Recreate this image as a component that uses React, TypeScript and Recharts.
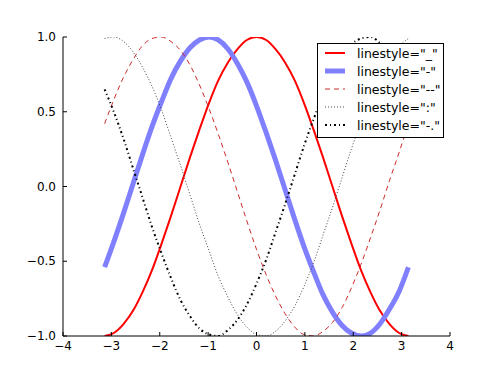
import React from "react";
import { LineChart, Line, XAxis, YAxis } from "recharts";

const xs = [
  -3.14, -2.95, -2.75, -2.55, -2.36, -2.16, -1.96, -1.77, -1.57, -1.37, -1.18, -0.98, -0.79, -0.59, -0.39, -0.2, 0,
  0.2, 0.39, 0.59, 0.79, 0.98, 1.18, 1.37, 1.57, 1.77, 1.96, 2.16, 2.36, 2.55, 2.75, 2.95, 3.14,
];
const solidVals = [
  -1, -0.98, -0.92, -0.83, -0.71, -0.56, -0.38, -0.2, 0, 0.2, 0.38, 0.56, 0.71, 0.83, 0.92, 0.98, 1,
  0.98, 0.92, 0.83, 0.71, 0.56, 0.38, 0.2, 0, -0.2, -0.38, -0.56, -0.71, -0.83, -0.92, -0.98, -1,
];
const thickVals = [
  -0.54, -0.37, -0.18, 0.02, 0.21, 0.4, 0.57, 0.72, 0.84, 0.93, 0.98, 1.0, 0.98, 0.92, 0.82, 0.7, 0.54,
  0.36, 0.18, -0.02, -0.22, -0.4, -0.57, -0.72, -0.84, -0.93, -0.98, -1.0, -0.98, -0.92, -0.82, -0.7, -0.54,
];
const dashedVals = [
  0.42, 0.58, 0.73, 0.85, 0.94, 0.99, 1.0, 0.97, 0.91, 0.81, 0.68, 0.52, 0.35, 0.16, -0.04, -0.23, -0.42,
  -0.59, -0.73, -0.85, -0.94, -0.99, -1.0, -0.97, -0.91, -0.81, -0.68, -0.52, -0.34, -0.16, 0.04, 0.23, 0.42,
];
const dottedVals = [
  0.99, 1.0, 0.97, 0.9, 0.8, 0.67, 0.51, 0.33, 0.14, -0.06, -0.25, -0.43, -0.6, -0.74, -0.86, -0.94, -0.99,
  -1.0, -0.97, -0.9, -0.8, -0.67, -0.51, -0.33, -0.14, 0.06, 0.25, 0.43, 0.6, 0.75, 0.86, 0.94, 0.99,
];
const dashDotVals = [
  0.65, 0.5, 0.32, 0.12, -0.07, -0.27, -0.45, -0.61, -0.76, -0.87, -0.95, -0.99, -1.0, -0.96, -0.89, -0.79, -0.65,
  -0.49, -0.31, -0.12, 0.08, 0.27, 0.45, 0.61, 0.76, 0.87, 0.95, 0.99, 1.0, 0.96, 0.89, 0.78, 0.65,
];

const xTicks = [-4, -3, -2, -1, 0, 1, 2, 3, 4];
const yTicks = [-1, -0.5, 0, 0.5, 1];

const series = [
  { key: "solid", label: 'linestyle="_"', color: "#ff0000", width: 2, dash: undefined },
  { key: "thick", label: 'linestyle="-"', color: "#8080ff", width: 5, dash: undefined },
  { key: "dashed", label: 'linestyle="--"', color: "#cc2a2a", width: 1, dash: "5 4" },
  { key: "dotted", label: 'linestyle=":"', color: "#444444", width: 1, dash: "1 2" },
  { key: "dashDot", label: 'linestyle="-."', color: "#000000", width: 2, dash: "2 3 1 3" },
];

const data = xs.map((x, i) => ({
  x,
  solid: solidVals[i],
  thick: thickVals[i],
  dashed: dashedVals[i],
  dotted: dottedVals[i],
  dashDot: dashDotVals[i],
}));

const FONT = "'DejaVu Sans', sans-serif";
const fmt = (v: number, digits: number) => v.toFixed(digits).replace("-", "\u2212");

const MARGIN = 8;

function BottomTick(props: any) {
  const { x, y, payload } = props;
  return (
    <g>
      <line x1={x} x2={x} y1={y - MARGIN} y2={y - MARGIN - 4} stroke="#000" />
      <text x={x} y={y} dy={6} textAnchor="middle" fontSize={12} fontFamily={FONT} fill="#000">
        {fmt(payload.value, 0)}
      </text>
    </g>
  );
}

function LeftTick(props: any) {
  const { x, y, payload } = props;
  return (
    <g>
      <line x1={x + MARGIN} x2={x + MARGIN + 4} y1={y} y2={y} stroke="#000" />
      <text x={x + 1} y={y} dy={4} textAnchor="end" fontSize={12} fontFamily={FONT} fill="#000">
        {fmt(payload.value, 1)}
      </text>
    </g>
  );
}

function TopTick(props: any) {
  const { x, y } = props;
  return <line x1={x} x2={x} y1={y} y2={y + 4} stroke="#000" />;
}

function RightTick(props: any) {
  const { x, y } = props;
  return <line x1={x - 4} x2={x} y1={y} y2={y} stroke="#000" />;
}

function LegendBox() {
  return (
    <div
      style={{
        position: "absolute",
        left: 317,
        top: 43,
        width: 127,
        height: 95,
        boxSizing: "border-box",
        border: "1px solid #000",
        background: "#fff",
        padding: "0 0 0 6px",
        fontFamily: FONT,
        fontSize: 12.5,
        color: "#000",
        whiteSpace: "nowrap",
        userSelect: "none",
      }}
    >
      {series.map((s) => (
        <div key={s.key} style={{ display: "flex", alignItems: "center", height: 18 }}>
          <svg width={28} height={10} style={{ marginRight: 5, flex: "none" }}>
            <line
              x1={1}
              x2={21}
              y1={5}
              y2={5}
              stroke={s.color}
              strokeWidth={s.width}
              strokeDasharray={s.dash}
            />
          </svg>
          <span>{s.label}</span>
        </div>
      ))}
    </div>
  );
}

export default function App() {
  return (
    <div style={{ position: "absolute", left: 0, top: 0, width: 500, height: 375, background: "#fff" }}>
      <LineChart width={500} height={375} data={data} margin={{ top: 37, right: 50, bottom: 9, left: 13 }}>
        <XAxis
          xAxisId="b"
          dataKey="x"
          type="number"
          domain={[-4, 4]}
          ticks={xTicks}
          allowDataOverflow
          height={30}
          tickSize={0}
          tickMargin={MARGIN}
          axisLine={{ stroke: "#000" }}
          tick={<BottomTick />}
          interval={0}
        />
        <XAxis
          xAxisId="t"
          orientation="top"
          dataKey="x"
          type="number"
          domain={[-4, 4]}
          ticks={xTicks}
          allowDataOverflow
          height={0}
          tickSize={0}
          tickMargin={0}
          axisLine={{ stroke: "#000" }}
          tick={<TopTick />}
          interval={0}
        />
        <YAxis
          yAxisId="l"
          type="number"
          domain={[-1, 1]}
          ticks={yTicks}
          allowDataOverflow
          width={50}
          tickSize={0}
          tickMargin={MARGIN}
          axisLine={{ stroke: "#000" }}
          tick={<LeftTick />}
          interval={0}
        />
        <YAxis
          yAxisId="r"
          orientation="right"
          type="number"
          domain={[-1, 1]}
          ticks={yTicks}
          allowDataOverflow
          width={0}
          tickSize={0}
          tickMargin={0}
          axisLine={{ stroke: "#000" }}
          tick={<RightTick />}
          interval={0}
        />
        {series.map((s) => (
          <Line
            key={s.key}
            xAxisId="b"
            yAxisId="l"
            type="monotone"
            dataKey={s.key}
            name={s.label}
            stroke={s.color}
            strokeWidth={s.width}
            strokeDasharray={s.dash}
            dot={false}
            isAnimationActive={false}
          />
        ))}
      </LineChart>
      <LegendBox />
    </div>
  );
}
